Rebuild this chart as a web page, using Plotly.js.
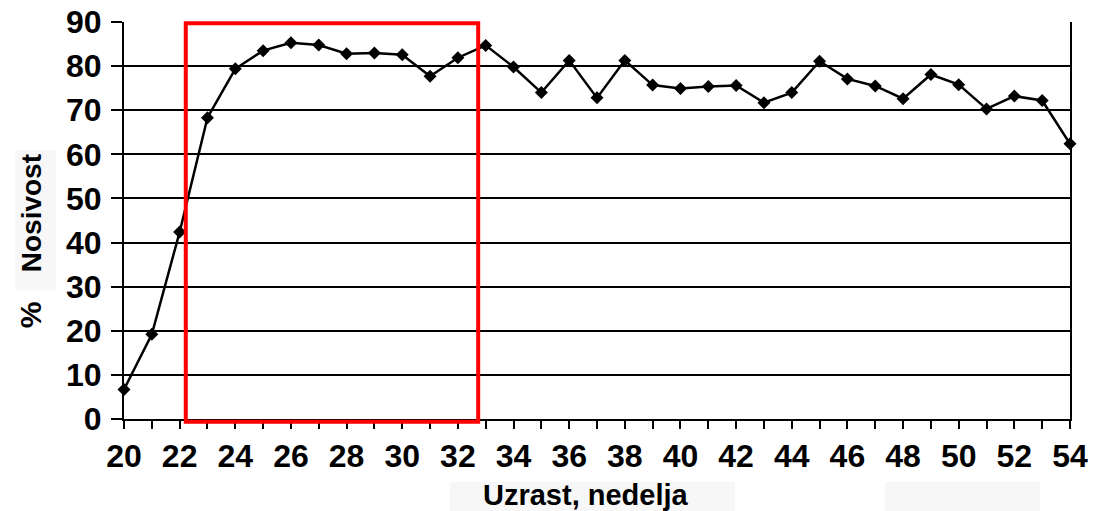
<!DOCTYPE html>
<html>
<head>
<meta charset="utf-8">
<script src="https://cdn.plot.ly/plotly-3.0.1.min.js"></script>
<style>html,body{margin:0;padding:0;background:#fff;}#chart{width:1103px;height:511px;}</style>
</head>
<body>
<div id="chart"></div>
<script>
const weeks = [20,21,22,23,24,25,26,27,28,29,30,31,32,33,34,35,36,37,38,39,40,41,42,43,44,45,46,47,48,49,50,51,52,53,54];
const nosivost = [6.7,19.2,42.4,68.3,79.4,83.5,85.3,84.8,82.8,83.0,82.6,77.7,81.9,84.7,79.8,74.0,81.3,72.8,81.3,75.7,74.9,75.4,75.6,71.7,74.0,81.1,77.1,75.5,72.6,78.1,75.8,70.3,73.2,72.2,62.4];
const xTickVals = [20,22,24,26,28,30,32,34,36,38,40,42,44,46,48,50,52,54];
const yTickVals = [0,10,20,30,40,50,60,70,80,90];
const highlight = {from: 22.22, to: 32.73, low: -0.6, high: 89.7};
const xTitle = "Uzrast, nedelja";
const yTitleA = "%";
const yTitleB = "Nosivost";

const xRange = [20, 54];
const yRange = [0, 90];
const fam = "Liberation Sans, Arial, sans-serif";
const tickFont = {family: fam, size: 32, color: "#000", weight: "bold"};

// plot area in pixels: left 124, right 1070, top 21.5, bottom 419
const px = p => (p - 124) / 946;
const py = p => (419 - p) / 397.5;
const xp = v => (v - xRange[0]) / (xRange[1] - xRange[0]);
const yp = v => (v - yRange[0]) / (yRange[1] - yRange[0]);

const trace = {
  x: weeks, y: nosivost, type: "scatter", mode: "lines+markers",
  line: {color: "#000", width: 2.5},
  marker: {symbol: "diamond", size: 10, color: "#000"},
  hoverinfo: "skip", showlegend: false, cliponaxis: false
};

const layout = {
  width: 1103, height: 511,
  margin: {l: 124, r: 33, t: 21.5, b: 92, pad: 0},
  paper_bgcolor: "#fff", plot_bgcolor: "#fff",
  showlegend: false,
  xaxis: {
    range: xRange, tickmode: "array", tickvals: weeks,
    ticktext: weeks.map(w => xTickVals.includes(w) ? String(w) : ""),
    ticks: "outside", ticklen: 8, tickwidth: 2, tickcolor: "#000",
    showline: true, linecolor: "#000", linewidth: 2,
    showgrid: false, zeroline: false, tickfont: tickFont, ticklabelstandoff: 0
  },
  yaxis: {
    range: yRange, tickmode: "array", tickvals: yTickVals,
    ticks: "outside", ticklen: 11, tickwidth: 2, tickcolor: "#000",
    showline: true, linecolor: "#000", linewidth: 2, mirror: true,
    showgrid: true, gridcolor: "#000", gridwidth: 2,
    zeroline: false, tickfont: tickFont, ticklabelstandoff: 3
  },
  shapes: [
    {type: "rect", xref: "paper", yref: "paper", x0: px(450), x1: px(735), y0: py(511), y1: py(482), fillcolor: "#f7f7f7", line: {width: 0}, layer: "below"},
    {type: "rect", xref: "paper", yref: "paper", x0: px(885), x1: px(1040), y0: py(511), y1: py(482), fillcolor: "#f7f7f7", line: {width: 0}, layer: "below"},
    {type: "rect", xref: "paper", yref: "paper", x0: px(15), x1: px(56), y0: py(290), y1: py(150), fillcolor: "#f7f7f7", line: {width: 0}, layer: "below"},
    {type: "rect", xref: "paper", yref: "paper", x0: xp(highlight.from), x1: xp(highlight.to), y0: yp(highlight.low), y1: yp(highlight.high), line: {color: "#ff0000", width: 4}, fillcolor: "rgba(0,0,0,0)", layer: "above"}
  ],
  annotations: [
    {text: xTitle, xref: "paper", yref: "paper", x: px(586), y: py(495), xanchor: "center", yanchor: "middle", showarrow: false,
     font: {family: fam, size: 29, color: "#000", weight: "bold"}},
    {text: yTitleB, xref: "paper", yref: "paper", x: px(31), y: py(213), xanchor: "center", yanchor: "middle", textangle: -90, showarrow: false,
     font: {family: fam, size: 28, color: "#000", weight: "bold"}},
    {text: yTitleA, xref: "paper", yref: "paper", x: px(30), y: py(315), xanchor: "center", yanchor: "middle", textangle: -90, showarrow: false,
     font: {family: fam, size: 30, color: "#000", weight: "bold"}}
  ]
};

Plotly.newPlot("chart", [trace], layout, {staticPlot: true, displayModeBar: false});
</script>
</body>
</html>
